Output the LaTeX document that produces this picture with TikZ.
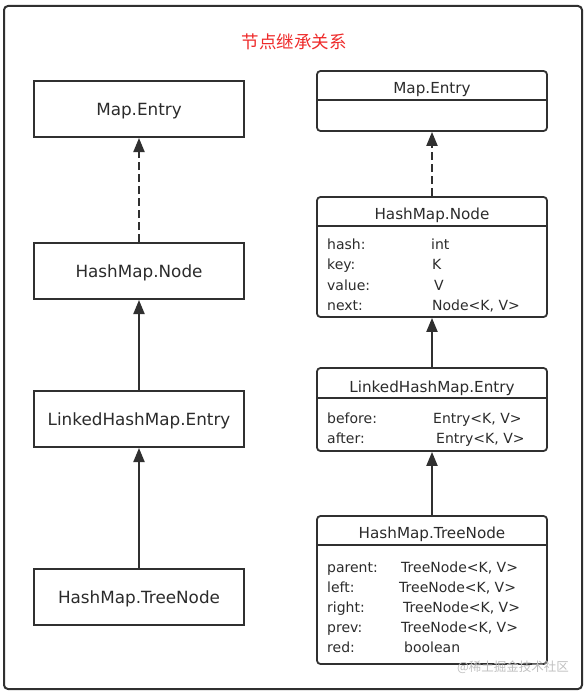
\documentclass[tikz,border=0pt]{standalone}
\usepackage{fontspec}
\setmainfont{DejaVu Sans}
\newfontfamily\cjk{Noto Sans CJK SC}
\usetikzlibrary{arrows.meta}
\definecolor{lc}{HTML}{303030}
\definecolor{tc}{HTML}{2B2B2B}
\definecolor{titlered}{HTML}{EE2A2A}
\begin{document}
\begin{tikzpicture}[x=1pt,y=-1pt,
  lbox/.style={draw=lc, line width=2pt, minimum width=210pt, minimum height=56pt, inner sep=0pt, text depth=0pt, text=tc, font=\fontsize{16.8}{19}\selectfont},
  rbox/.style={draw=lc, line width=1.8pt, rounded corners=3.5pt, minimum width=230pt, inner sep=0pt},
  hdr/.style={text=tc, inner sep=0pt, anchor=base, font=\fontsize{15.2}{18}\selectfont},
  fld/.style={text=tc, inner sep=0pt, anchor=base west, font=\fontsize{14}{16}\selectfont},
  sep/.style={draw=lc, line width=1.5pt},
  arr/.style={draw=lc, line width=2pt, -{Triangle[width=11pt,length=14pt]}},
  darr/.style={arr, dash pattern=on 8pt off 4pt}
]
\useasboundingbox (0,0) rectangle (588,693);
% outer frame
\node[draw=lc, line width=2pt, rounded corners=4pt, minimum width=578pt, minimum height=683pt, inner sep=0pt] (frame) at (293,347.5) {};
% title
\node[text=titlered, inner sep=0pt, font=\cjk\fontsize{17.5}{18}\selectfont] (title) at (294,42) {节点继承关系};

% left column
\node[lbox] (lme) at (139,109) {Map.Entry};
\node[lbox] (lhn) at (139,271) {HashMap.Node};
\node[lbox] (llh) at (139,419) {LinkedHashMap.Entry};
\node[lbox] (ltn) at (139,597) {HashMap.TreeNode};
\draw[darr] (lhn.north) -- (lme.south);
\draw[arr] (llh.north) -- (lhn.south);
\draw[arr] (ltn.north) -- (llh.south);

% right column
\node[rbox, minimum height=60pt] (rme) at (432,101) {};
\draw[sep] ([yshift=-30pt]rme.north west) -- ([yshift=-30pt]rme.north east);
\node[hdr] (rmeh) at (432,93.5) {Map.Entry};

\node[rbox, minimum height=120pt] (rhn) at (432,257) {};
\draw[sep] ([yshift=-30pt]rhn.north west) -- ([yshift=-30pt]rhn.north east);
\node[hdr] (rhnh) at (432,219.5) {HashMap.Node};
\node[fld] (hn1) at (327,249) {hash:};
\node[fld] (hn2) at (327,269) {key:};
\node[fld] (hn3) at (327,290) {value:};
\node[fld] (hn4) at (327,310) {next:};
\node[fld] (hn1v) at (431,249) {int};
\node[fld] (hn2v) at (432,269) {K};
\node[fld] (hn3v) at (434,290) {V};
\node[fld] (hn4v) at (432,310) {Node<K, V>};

\node[rbox, minimum height=83pt] (rlh) at (432,409.5) {};
\draw[sep] ([yshift=-31pt]rlh.north west) -- ([yshift=-31pt]rlh.north east);
\node[hdr] (rlhh) at (432,392.5) {LinkedHashMap.Entry};
\node[fld] (lh1) at (327,423) {before:};
\node[fld] (lh2) at (327,443) {after:};
\node[fld] (lh1v) at (433,423) {Entry<K, V>};
\node[fld] (lh2v) at (436,443) {Entry<K, V>};

\node[rbox, minimum height=148pt] (rtn) at (432,590) {};
\draw[sep] ([yshift=-30pt]rtn.north west) -- ([yshift=-30pt]rtn.north east);
\node[hdr] (rtnh) at (432,538.5) {HashMap.TreeNode};
\node[fld] (tn1) at (327,572) {parent:};
\node[fld] (tn2) at (327,592) {left:};
\node[fld] (tn3) at (327,612) {right:};
\node[fld] (tn4) at (327,632) {prev:};
\node[fld] (tn5) at (327,652) {red:};
\node[fld] (tn1v) at (401,572) {TreeNode<K, V>};
\node[fld] (tn2v) at (399,592) {TreeNode<K, V>};
\node[fld] (tn3v) at (403,612) {TreeNode<K, V>};
\node[fld] (tn4v) at (401,632) {TreeNode<K, V>};
\node[fld] (tn5v) at (404,652) {boolean};

\draw[darr] (rhn.north) -- (rme.south);
\draw[arr] (rlh.north) -- (rhn.south);
\draw[arr] (rtn.north) -- (rlh.south);

% watermark
\node[text=black!25, inner sep=0pt, font=\cjk\fontsize{12.5}{13}\selectfont] (wm) at (513,667) {@稀土掘金技术社区};
\end{tikzpicture}
\end{document}
